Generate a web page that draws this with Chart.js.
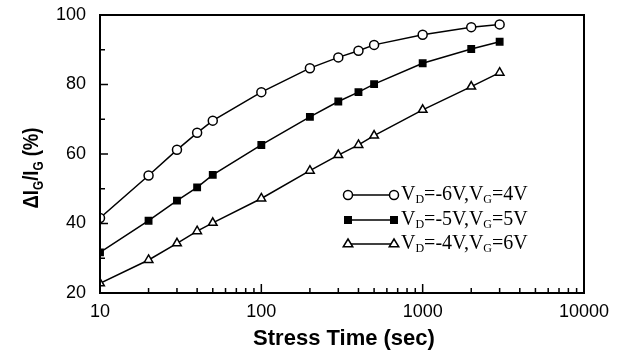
<!DOCTYPE html>
<html>
<head>
<meta charset="utf-8">
<script src="https://cdn.jsdelivr.net/npm/chart.js@4"></script>
<style>
  html, body { margin: 0; padding: 0; background: #fff; }
  #wrap { width: 618px; height: 352px; }
</style>
</head>
<body>
<div id="wrap"><canvas id="myChart" width="618" height="352"></canvas></div>
<script>
const times = [10, 20, 30, 40, 50, 100, 200, 300, 400, 500, 1000, 2000, 3000];
const vd6 = [41.6, 53.8, 61.2, 66.1, 69.6, 77.8, 84.7, 87.8, 89.7, 91.4, 94.3, 96.5, 97.3];
const vd5 = [31.7, 40.8, 46.6, 50.4, 54.0, 62.6, 70.7, 75.1, 77.8, 80.1, 86.1, 90.2, 92.3];
const vd4 = [22.8, 29.5, 34.3, 37.8, 40.2, 47.2, 55.2, 59.7, 62.6, 65.3, 72.7, 79.4, 83.4];
const labels = ['V_D=-6V,V_G=4V', 'V_D=-5V,V_G=5V', 'V_D=-4V,V_G=6V'];
const xTicks = [10, 100, 1000, 10000];
const xMinor = [20, 30, 40, 50, 60, 70, 80, 90, 200, 300, 400, 500, 600, 700, 800, 900,
                2000, 3000, 4000, 5000, 6000, 7000, 8000, 9000];
const yTicks = [20, 40, 60, 80, 100];
const yMinor = [30, 50, 70, 90];

function pts(ys) {
  return times.map((t, i) => ({ x: t, y: ys[i] }));
}

// text with "_X" subscripts
function drawSubText(ctx, str, x, y, size, family, weight) {
  let i = 0;
  while (i < str.length) {
    if (str[i] === '_') {
      const c = str[i + 1];
      ctx.font = weight + ' ' + Math.round(size * 0.62) + 'px ' + family;
      ctx.fillText(c, x, y + size * 0.24);
      x += ctx.measureText(c).width;
      i += 2;
    } else {
      let j = i;
      while (j < str.length && str[j] !== '_') j++;
      const s = str.slice(i, j);
      ctx.font = weight + ' ' + size + 'px ' + family;
      ctx.fillText(s, x, y);
      x += ctx.measureText(s).width;
      i = j;
    }
  }
  return x;
}
function measureSubText(ctx, str, size, family, weight) {
  let w = 0, i = 0;
  while (i < str.length) {
    if (str[i] === '_') {
      ctx.font = weight + ' ' + Math.round(size * 0.62) + 'px ' + family;
      w += ctx.measureText(str[i + 1]).width;
      i += 2;
    } else {
      let j = i;
      while (j < str.length && str[j] !== '_') j++;
      ctx.font = weight + ' ' + size + 'px ' + family;
      w += ctx.measureText(str.slice(i, j)).width;
      i = j;
    }
  }
  return w;
}

function marker(ctx, ds, px, y) {
  ctx.fillStyle = ds.pointBackgroundColor;
  ctx.strokeStyle = '#000';
  ctx.lineWidth = ds.pointBorderWidth;
  ctx.beginPath();
  if (ds.pointStyle === 'circle') {
    ctx.arc(px, y, ds.pointRadius, 0, Math.PI * 2);
  } else if (ds.pointStyle === 'rect') {
    const r = ds.pointRadius * 0.72;
    ctx.rect(px - r, y - r, 2 * r, 2 * r);
  } else {
    const r = ds.pointRadius;
    ctx.moveTo(px, y - r);
    ctx.lineTo(px + r * 0.95, y + r * 0.55);
    ctx.lineTo(px - r * 0.95, y + r * 0.55);
    ctx.closePath();
  }
  ctx.fill();
  ctx.stroke();
}

const framePlugin = {
  id: 'frame',
  afterDraw(chart) {
    const ctx = chart.ctx;
    const a = chart.chartArea;
    const xs = chart.scales.x, ys = chart.scales.y;
    ctx.save();
    ctx.strokeStyle = '#000';
    ctx.lineWidth = 2;
    ctx.strokeRect(a.left, a.top, a.right - a.left, a.bottom - a.top);
    ctx.lineWidth = 1.5;
    ctx.beginPath();
    xTicks.forEach(v => {
      const p = xs.getPixelForValue(v);
      ctx.moveTo(p, a.bottom); ctx.lineTo(p, a.bottom - 9);
    });
    xMinor.forEach(v => {
      const p = xs.getPixelForValue(v);
      ctx.moveTo(p, a.bottom); ctx.lineTo(p, a.bottom - 5);
    });
    yTicks.forEach(v => {
      const p = ys.getPixelForValue(v);
      ctx.moveTo(a.left, p); ctx.lineTo(a.left + 8, p);
    });
    yMinor.forEach(v => {
      const p = ys.getPixelForValue(v);
      ctx.moveTo(a.left, p); ctx.lineTo(a.left + 5, p);
    });
    ctx.stroke();

    // axis titles
    ctx.fillStyle = '#000';
    ctx.textBaseline = 'alphabetic';
    ctx.textAlign = 'left';
    ctx.font = 'bold 22px "Liberation Sans", Arial, sans-serif';
    const xt = 'Stress Time (sec)';
    const xw = ctx.measureText(xt).width;
    ctx.fillText(xt, (a.left + a.right) / 2 - xw / 2 + 2, 345);

    const yt = '\u0394I_G/I_G (%)';
    const fam = '"Liberation Sans", Arial, sans-serif';
    const yw = measureSubText(ctx, yt, 22, fam, 'bold');
    ctx.translate(38, 168);
    ctx.rotate(-Math.PI / 2);
    ctx.scale(0.84, 1);
    drawSubText(ctx, yt, -yw / 2, 0, 22, fam, 'bold');
    ctx.restore();

    // legend
    ctx.save();
    const lx1 = 348, lx2 = 394, tx = 399;
    const rows = [195, 220, 244];
    const fam2 = '"Liberation Serif", "Times New Roman", serif';
    chart.data.datasets.forEach((ds, i) => {
      const y = rows[i];
      ctx.strokeStyle = '#000';
      ctx.lineWidth = 1.3;
      ctx.beginPath();
      ctx.moveTo(lx1, y); ctx.lineTo(lx2, y);
      ctx.stroke();
      marker(ctx, ds, lx1, y);
      marker(ctx, ds, lx2, y);
      ctx.fillStyle = '#000';
      ctx.textBaseline = 'middle';
      drawSubText(ctx, labels[i], tx + 2, y, 20, fam2, 'normal');
    });
    ctx.restore();
  }
};

const common = {
  borderColor: '#000',
  borderWidth: 1.5,
  pointBorderColor: '#000',
  pointBorderWidth: 1.5,
  pointRadius: 4.5,
  pointHoverRadius: 4.5,
  tension: 0,
  fill: false
};

const data = {
  datasets: [
    Object.assign({}, common, {
      label: labels[0], data: pts(vd6),
      pointStyle: 'circle', pointBackgroundColor: '#fff'
    }),
    Object.assign({}, common, {
      label: labels[1], data: pts(vd5),
      pointStyle: 'rect', pointBackgroundColor: '#000', pointRadius: 4.5
    }),
    Object.assign({}, common, {
      label: labels[2], data: pts(vd4),
      pointStyle: 'triangle', pointBackgroundColor: '#fff', pointRadius: 5
    })
  ]
};

const tickFont = { family: '"Liberation Sans", Arial, sans-serif', size: 18 };

const config = {
  type: 'line',
  data: data,
  options: {
    responsive: false,
    animation: false,
    layout: { padding: { left: 35, right: 34, top: 15, bottom: 0 } },
    plugins: {
      legend: { display: false },
      tooltip: { enabled: false }
    },
    scales: {
      x: {
        type: 'logarithmic',
        min: 10,
        max: 10000,
        afterBuildTicks: s => { s.ticks = xTicks.map(v => ({ value: v })); },
        afterFit: s => { s.height = 59; s.paddingLeft = 0; s.paddingRight = 0; },
        grid: { display: false, drawTicks: false },
        border: { display: false },
        ticks: {
          color: '#000',
          font: tickFont,
          padding: 8,
          maxRotation: 0,
          autoSkip: false,
          callback: v => String(v)
        }
      },
      y: {
        min: 20,
        max: 100,
        afterBuildTicks: s => { s.ticks = yTicks.map(v => ({ value: v })); },
        afterFit: s => { s.width = 65; s.paddingTop = 0; s.paddingBottom = 0; },
        grid: { display: false, drawTicks: false },
        border: { display: false },
        ticks: {
          color: '#000',
          font: tickFont,
          padding: 14,
          callback: v => String(v)
        }
      }
    }
  },
  plugins: [framePlugin]
};

const myChart = new Chart(document.getElementById('myChart'), config);
</script>
</body>
</html>
